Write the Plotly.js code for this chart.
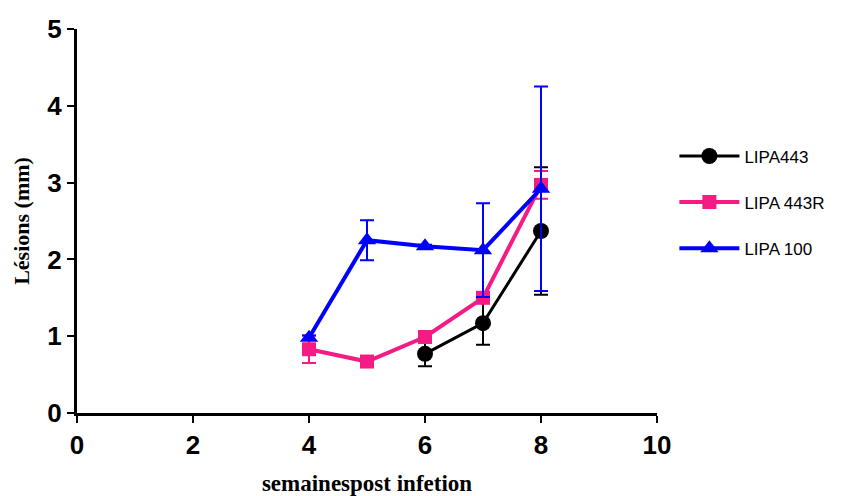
<!DOCTYPE html>
<html><head><meta charset="utf-8">
<script src="https://cdn.plot.ly/plotly-3.0.1.min.js"></script>
<style>body{margin:0;background:#fff}</style>
</head><body>
<div id="chart" style="width:844px;height:496px"></div>
<script>
const names = ["LIPA443", "LIPA 443R", "LIPA 100"];
const xTicks = [0, 2, 4, 6, 8, 10];
const yTicks = [0, 1, 2, 3, 4, 5];
const x443 = [6, 7, 8];
const y443 = [0.77, 1.17, 2.37];
const e443 = [0.16, 0.28, 0.83];
const x443R = [4, 5, 6, 7, 8];
const y443R = [0.83, 0.67, 0.99, 1.50, 2.97];
const e443R = [0.18, 0.02, 0.03, 0.03, 0.18];
const x100 = [4, 5, 6, 7, 8];
const y100 = [0.98, 2.25, 2.17, 2.12, 2.92];
const e100 = [0.03, 0.26, 0.02, 0.61, 1.33];
const colors = ["#000000", "#F41C84", "#0000FF"];

function tr(x, y, e, name, color, symbol, size, lw, g) {
  return {
    x: x, y: y, name: name, type: "scatter", mode: "lines+markers", legendgroup: g,
    line: {color: color, width: lw},
    marker: {color: color, symbol: symbol, size: size},
    error_y: {type: "data", array: e, visible: true, color: color, thickness: 2, width: 7}
  };
}
const data = [
  tr(x443, y443, e443, names[0], colors[0], "circle", 16, 3, "a"),
  tr(x443R, y443R, e443R, names[1], colors[1], "square", 14, 4, "b"),
  tr(x100, y100, e100, names[2], colors[2], "triangle-up", 16, 4, "c")
];
const tickFont = {family: "Liberation Sans, Arial", size: 26, color: "#000", weight: 700};
const layout = {
  width: 844, height: 496,
  margin: {l: 77, r: 187, t: 29, b: 83},
  paper_bgcolor: "#fff", plot_bgcolor: "#fff",
  showlegend: true,
  legend: {x: 1.03, y: 0.715, xanchor: "left", yanchor: "top",
    font: {family: "Liberation Sans, Arial", size: 17, color: "#000"},
    tracegroupgap: 21, itemwidth: 60},
  xaxis: {
    range: [0, 10], tickvals: xTicks, ticktext: xTicks.map(v => "<b>" + v + "</b>"),
    showgrid: false, zeroline: false, showline: true, linecolor: "#000", linewidth: 3,
    ticks: "outside", ticklen: 7, tickwidth: 2, tickcolor: "#000",
    tickfont: tickFont,
    title: {text: "<b>semainespost infetion</b>", standoff: 21,
      font: {family: "Liberation Serif, Times New Roman", size: 23, color: "#000", weight: 700}}
  },
  yaxis: {
    range: [0, 5], tickvals: yTicks, ticktext: yTicks.map(v => "<b>" + v + "</b>"),
    showgrid: false, zeroline: false, showline: true, linecolor: "#000", linewidth: 3,
    ticks: "outside", ticklen: 7, tickwidth: 2, tickcolor: "#000",
    tickfont: tickFont,
    title: {text: "<b>Lésions (mm)</b>", standoff: 12,
      font: {family: "Liberation Serif, Times New Roman", size: 22, color: "#000", weight: 700}}
  }
};
Plotly.newPlot("chart", data, layout, {displayModeBar: false});
</script>
</body></html>
